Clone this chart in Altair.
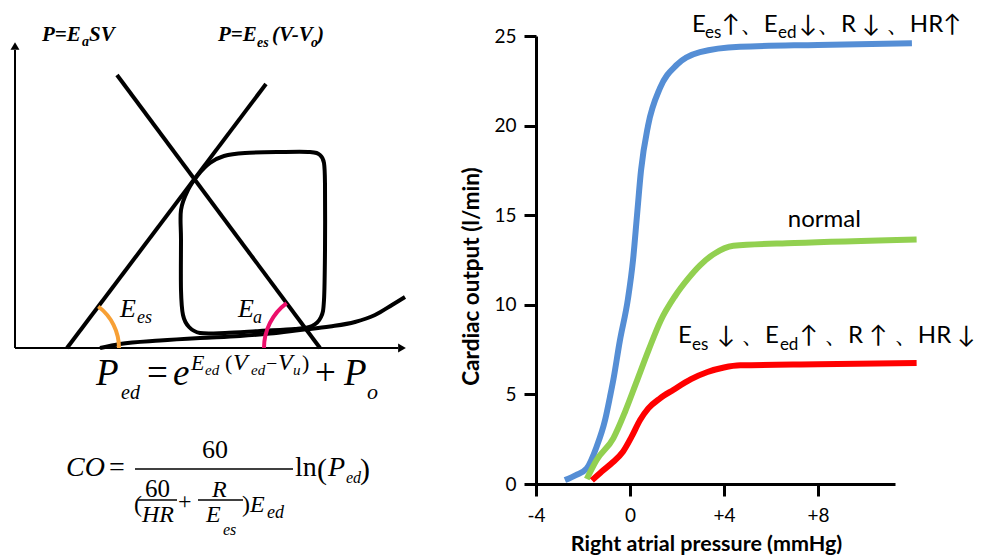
import altair as alt
import pandas as pd

# ================= Right panel: cardiac output vs right atrial pressure =================
rap_ticks = [-4, 0, 4, 8]
co_ticks = [0, 5, 10, 15, 20, 25]

blue_rap = [-2.77, -2.3, -1.84, -1.42, -1.06, -0.85, -0.71, -0.43, -0.09, 0.13, 0.30, 0.47, 0.77, 1.28, 2.0, 2.98, 4.68, 8.0, 12.0]
blue_co = [0.22, 0.5, 0.87, 2.08, 3.57, 4.87, 5.8, 8.0, 10.3, 12.5, 15.0, 17.5, 20.0, 22.1, 23.4, 24.1, 24.4, 24.5, 24.6]

green_rap = [-1.84, -1.42, -0.71, -0.21, 0.25, 0.8, 1.3, 1.9, 2.5, 2.98, 3.53, 4.4, 7.0, 12.2]
green_co = [0.28, 1.34, 2.55, 4.03, 5.6, 7.5, 9.1, 10.45, 11.5, 12.2, 12.8, 13.3, 13.45, 13.65]

red_rap = [-1.62, -1.2, -0.72, -0.3, 0.07, 0.43, 0.78, 1.28, 1.84, 2.6, 3.3, 4.0, 4.7, 8.0, 12.2]
red_co = [0.2, 0.7, 1.23, 1.8, 2.64, 3.57, 4.22, 4.78, 5.25, 5.85, 6.25, 6.5, 6.62, 6.68, 6.75]

series_names = ["increased", "normal", "decreased"]
series_colors = ["#558ED5", "#92D050", "#FF0000"]

# annotation pieces (text, rap, co)
upper_main = ["E", "↑、E", "↓、R ↓", "、HR↑"]
upper_main_x = [2.64, 3.91, 7.19, 10.89]
upper_sub = ["es", "ed"]
upper_sub_x = [3.19, 6.30]
upper_y, upper_sub_y = 25.22, 24.89

lower_main = ["E", "↓ 、E", "↑ 、R ↑", "、HR ↓"]
lower_main_x = [2.04, 3.70, 7.23, 11.23]
lower_sub = ["es", "ed"]
lower_sub_x = [2.64, 6.38]
lower_y, lower_sub_y = 7.87, 7.48

normal_label = ["normal"]
normal_x, normal_y = [6.72], [14.34]

# ================= Left panel: schematic PV diagram (diagram units) =================
axis_lines = {"x": [15, 15], "y": [348, 348], "x2": [15, 398], "y2": [50, 348]}
arrow_heads = {"x": [15], "y": [46]}
arrow_heads_r = {"x": [402], "y": [348]}
es_ea_lines = {"x": [67, 117], "y": [348, 75], "x2": [266, 320], "y2": [84, 348]}

loop_x = [188, 198, 210, 224, 245, 280, 310, 320, 324, 325, 325, 324, 321, 312, 295, 260, 225, 200, 189, 183, 181, 181, 181]
loop_y = [190, 175, 163, 156, 153, 152, 152, 155, 163, 185, 250, 300, 317, 326, 329, 331, 333, 333, 327, 315, 290, 240, 210]

edpvr_x = [100, 120, 160, 200, 240, 270, 300, 330, 355, 375, 392, 405]
edpvr_y = [348, 344, 340.5, 338, 336, 333.5, 330, 326.5, 322, 315, 305, 297]

arc_es_center = {"x": [67], "y": [348]}
arc_ea_center = {"x": [320], "y": [348]}

frac_bars = {"x": [135, 138, 198], "x2": [293, 177, 243], "y": [469, 500, 500]}

bold_italic_text = [("P=E", 42, 41, 21), ("a", 82, 46, 14), ("SV", 89, 41, 21),
                    ("P=E", 218, 41, 21), ("es", 257, 47, 14), ("(V-V", 272, 41, 21),
                    ("o", 311, 47, 14), (")", 317, 41, 21)]
italic_text = [("E", 120, 317, 26), ("es", 137, 323, 18), ("E", 238, 317, 26), ("a", 253, 323, 18),
               ("P", 96, 385, 37), ("ed", 121, 399, 20), ("e", 173, 385, 37), ("E", 191, 370, 22),
               ("ed", 205, 375, 15), ("V", 233, 370, 24), ("ed", 251, 375, 15), ("V", 278, 370, 24),
               ("u", 293, 375, 15), ("P", 344, 385, 37), ("o", 367, 399, 22),
               ("CO", 66, 476, 28), ("P", 328, 476, 28), ("ed", 346, 483, 16), ("HR", 142, 522, 24),
               ("R", 212, 497, 24), ("E", 206, 522, 24), ("es", 223, 535, 16), ("E", 250, 512, 24),
               ("ed", 267, 518, 18)]
normal_text = [("=", 147, 385, 37), ("(", 225, 370, 22), ("−", 266, 370, 20), (")", 302, 370, 22),
               ("+", 315, 385, 37), ("=", 109, 476, 28), ("60", 202, 458, 26), ("ln", 295, 476, 28),
               ("(", 317, 479, 30), (")", 360, 479, 30), ("(", 134, 512, 24), ("60", 145, 497, 25),
               ("+", 178, 509, 24), (")", 242, 512, 24)]

# ---------------------------------------------------------------------------------
rows = []
for name, xs, ys in zip(series_names, [blue_rap, green_rap, red_rap], [blue_co, green_co, red_co]):
    for i, (a, b) in enumerate(zip(xs, ys)):
        rows.append({"rap": a, "co": b, "series": name, "idx": i})
curves = pd.DataFrame(rows)

xscale_r = alt.Scale(domain=[-4, 11.28], nice=False, zero=False)
yscale_r = alt.Scale(domain=[0, 25], range=[476, 28], nice=False, zero=False)

axis_style = dict(domainColor="black", domainWidth=3, tickColor="black", tickWidth=3, tickSize=12,
                  labelFont="Lato", labelFontSize=19, labelColor="black", labelFlush=False,
                  titleFont="Lato", titleFontWeight="bold", titleColor="black", grid=False)

lines = alt.Chart(curves).mark_line(strokeWidth=6, interpolate="monotone").encode(
    x=alt.X("rap:Q", scale=xscale_r,
            axis=alt.Axis(values=rap_ticks, title="Right atrial pressure (mmHg)", labelPadding=10,
                          titlePadding=8, titleX=170, titleFontSize=21.5,
                          labelExpr="datum.value > 0 ? '+' + datum.value : '' + datum.value",
                          **axis_style)),
    y=alt.Y("co:Q", scale=yscale_r,
            axis=alt.Axis(values=co_ticks, title="Cardiac output (l/min)", labelPadding=8,
                          titlePadding=10, titleY=268, titleAlign="center", titleFontSize=22.5,
                          **axis_style)),
    color=alt.Color("series:N", scale=alt.Scale(domain=series_names, range=series_colors), legend=None),
    order="idx:Q",
)


def ann_df(texts, xs, y, size):
    return pd.DataFrame({"t": texts, "rap": xs, "co": [y] * len(xs), "s": [size] * len(xs)})


ann = pd.concat([
    ann_df(upper_main, upper_main_x, upper_y, 24),
    ann_df(upper_sub, upper_sub_x, upper_sub_y, 17),
    ann_df(lower_main, lower_main_x, lower_y, 24),
    ann_df(lower_sub, lower_sub_x, lower_sub_y, 17),
    pd.DataFrame({"t": normal_label, "rap": normal_x, "co": normal_y, "s": [24]}),
])

ann_layer = alt.Chart(ann).mark_text(align="left", baseline="alphabetic", font="Lato", color="black").encode(
    x=alt.X("rap:Q", scale=xscale_r),
    y=alt.Y("co:Q", scale=yscale_r),
    text="t:N",
    size=alt.Size("s:Q", scale=None),
)

right = alt.layer(lines, ann_layer).properties(width=359, height=476)

# ---------------------------------------------------------------------------------
xs_l = alt.Scale(domain=[8, 448], nice=False, zero=False)
ys_l = alt.Scale(domain=[8, 552], reverse=True, nice=False, zero=False)


def X(f="x"):
    return alt.X(f"{f}:Q", scale=xs_l, axis=None)


def Y(f="y"):
    return alt.Y(f"{f}:Q", scale=ys_l, axis=None)


axes_l = alt.Chart(pd.DataFrame(axis_lines)).mark_rule(strokeWidth=2, color="black").encode(
    x=X(), y=Y(), x2="x2:Q", y2="y2:Q")
head_up = alt.Chart(pd.DataFrame(arrow_heads)).mark_point(shape="triangle-up", filled=True, size=80,
                                                          color="black", opacity=1).encode(x=X(), y=Y())
head_right = alt.Chart(pd.DataFrame(arrow_heads_r)).mark_point(shape="triangle-right", filled=True, size=80,
                                                               color="black", opacity=1).encode(x=X(), y=Y())
straight = alt.Chart(pd.DataFrame(es_ea_lines)).mark_rule(strokeWidth=4, color="black").encode(
    x=X(), y=Y(), x2="x2:Q", y2="y2:Q")
loop = alt.Chart(pd.DataFrame({"x": loop_x, "y": loop_y, "i": range(len(loop_x))})).mark_line(
    strokeWidth=4, color="black", interpolate="cardinal-closed", strokeJoin="round").encode(
    x=X(), y=Y(), order="i:Q")
edpvr = alt.Chart(pd.DataFrame({"x": edpvr_x, "y": edpvr_y})).mark_line(
    strokeWidth=4, color="black", interpolate="monotone").encode(x=X(), y=Y())
arc_es = alt.Chart(pd.DataFrame(arc_es_center)).mark_arc(
    theta=0.646, theta2=1.5708, radius=54, radius2=50, color="#F7A035").encode(x=X(), y=Y())
arc_ea = alt.Chart(pd.DataFrame(arc_ea_center)).mark_arc(
    theta=4.7124, theta2=5.645, radius=58, radius2=54, color="#EC0F6B").encode(x=X(), y=Y())
bars = alt.Chart(pd.DataFrame(frac_bars)).mark_rule(strokeWidth=1.3, color="black").encode(
    x=X(), x2="x2:Q", y=Y())


def text_layer(items, style, weight):
    df = pd.DataFrame(items, columns=["t", "x", "y", "s"])
    return alt.Chart(df).mark_text(align="left", baseline="alphabetic", font="Liberation Serif",
                                   fontStyle=style, fontWeight=weight, color="black").encode(
        x=X(), y=Y(), text="t:N", size=alt.Size("s:Q", scale=None))


left = alt.layer(
    axes_l, head_up, head_right, straight, edpvr, loop, arc_es, arc_ea, bars,
    text_layer(bold_italic_text, "italic", "bold"),
    text_layer(italic_text, "italic", "normal"),
    text_layer(normal_text, "normal", "normal"),
).properties(width=440, height=544)

chart = alt.hconcat(left, right, spacing=88, bounds="flush").properties(
    padding={"left": 0, "top": 0, "right": 0, "bottom": 0}
).configure_view(stroke=None)

chart.save("out.html", embed_options={"renderer": "svg", "actions": False})
